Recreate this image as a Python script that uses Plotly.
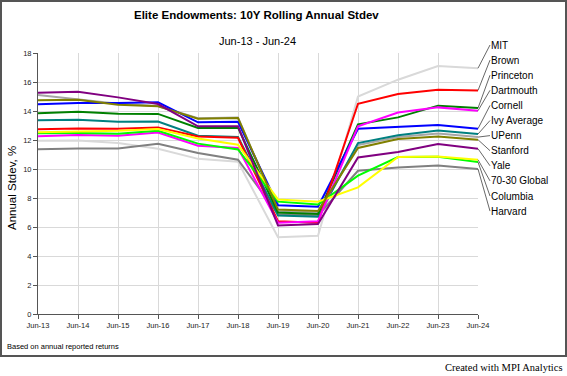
import plotly.graph_objects as go

periods = ["Jun-13", "Jun-14", "Jun-15", "Jun-16", "Jun-17", "Jun-18",
           "Jun-19", "Jun-20", "Jun-21", "Jun-22", "Jun-23", "Jun-24"]

# series values (annual stdev, %)
mit        = [11.95, 11.97, 11.80, 11.40, 10.70, 10.50, 5.30, 5.40, 15.00, 16.16, 17.10, 16.95]
harvard    = [11.36, 11.42, 11.42, 11.74, 11.10, 10.64, 6.90, 6.80, 9.88, 10.11, 10.25, 10.00]
upenn      = [15.10, 14.80, 14.50, 14.35, 13.50, 13.55, 7.10, 7.00, 11.65, 12.20, 12.45, 12.20]
ivy_avg    = [13.37, 13.40, 13.26, 13.28, 12.30, 12.20, 6.80, 6.70, 11.79, 12.32, 12.66, 12.41]
princeton  = [13.85, 13.95, 13.81, 13.80, 12.83, 12.85, 7.00, 6.90, 13.08, 13.56, 14.37, 14.20]
cornell    = [14.47, 14.55, 14.55, 14.60, 13.22, 13.26, 7.50, 7.40, 12.78, 12.90, 13.03, 12.78]
brown      = [12.75, 12.80, 12.78, 12.87, 12.25, 12.15, 6.40, 6.30, 14.50, 15.17, 15.47, 15.42]
dartmouth  = [12.26, 12.34, 12.30, 12.52, 11.60, 11.45, 6.30, 6.40, 12.94, 13.90, 14.25, 14.02]
columbia   = [12.47, 12.48, 12.43, 12.64, 11.75, 11.35, 7.75, 7.55, 9.54, 10.83, 10.85, 10.48]
global7030 = [12.54, 12.60, 12.64, 12.76, 12.10, 11.67, 7.90, 7.75, 8.73, 10.83, 10.87, 10.64]
stanford   = [14.75, 14.78, 14.43, 14.32, 13.47, 13.52, 7.20, 7.10, 11.45, 12.07, 12.25, 12.02]
yale       = [15.26, 15.33, 14.94, 14.48, 12.94, 12.94, 6.10, 6.20, 10.80, 11.17, 11.72, 11.40]

series = [
    ("MIT", mit, "#d9d9d9"),
    ("Harvard", harvard, "#808080"),
    ("UPenn", upenn, "#a6a6a6"),
    ("Ivy Average", ivy_avg, "#008080"),
    ("Princeton", princeton, "#008000"),
    ("Cornell", cornell, "#0000ff"),
    ("Brown", brown, "#ff0000"),
    ("Dartmouth", dartmouth, "#ff00ff"),
    ("Columbia", columbia, "#00ff00"),
    ("70-30 Global", global7030, "#ffff00"),
    ("Stanford", stanford, "#808000"),
    ("Yale", yale, "#800080"),
]

# label order on the right (top to bottom)
label_order = ["MIT", "Brown", "Princeton", "Dartmouth", "Cornell", "Ivy Average",
               "UPenn", "Stanford", "Yale", "70-30 Global", "Columbia", "Harvard"]

W, H = 567, 376
L, R, T, B = 38, 89, 53, 62
PW, PH = W - L - R, H - T - B
YMAX = 18

def px_x(p):
    return (p - L) / PW

def px_y(p):
    return (H - B - p) / PH

def val_to_px(v):
    return T + (YMAX - v) / YMAX * PH

fig = go.Figure()
for name, vals, col in series:
    fig.add_trace(go.Scatter(x=periods, y=vals, mode="lines", name=name,
                             line=dict(color=col, width=2), showlegend=False))

annotations = []
lookup = {n: v for n, v, c in series}
label_top, label_step = 45, 15.1
for i, name in enumerate(label_order):
    end_v = lookup[name][-1]
    ly = label_top + i * label_step
    annotations.append(dict(
        x=periods[-1], y=end_v, xref="x", yref="y",
        text=name, showarrow=True, arrowhead=0, arrowwidth=0.8,
        arrowcolor="#404040", ax=12, ay=ly - val_to_px(end_v),
        xanchor="left", yanchor="middle", borderpad=0,
        font=dict(family="Arial, Liberation Sans", size=10, color="#000"),
    ))

annotations += [
    dict(text="<b>Elite Endowments: 10Y Rolling Annual Stdev</b>", xref="paper", yref="paper",
         x=px_x(256), y=px_y(14.5), showarrow=False, xanchor="center", yanchor="middle",
         font=dict(family="Arial, Liberation Sans", size=11.5, color="#000")),
    dict(text="Jun-13 - Jun-24", xref="paper", yref="paper",
         x=px_x(257), y=px_y(40.5), showarrow=False, xanchor="center", yanchor="middle",
         font=dict(family="Arial, Liberation Sans", size=11, color="#000")),
    dict(text="Annual Stdev, %", xref="paper", yref="paper", textangle=-90,
         x=px_x(12), y=px_y(188), showarrow=False, xanchor="center", yanchor="middle",
         font=dict(family="Arial, Liberation Sans", size=11.5, color="#000")),
    dict(text="Based on annual reported returns", xref="paper", yref="paper",
         x=px_x(5), y=px_y(346), showarrow=False, xanchor="left", yanchor="middle",
         font=dict(family="Arial, Liberation Sans", size=7.5, color="#000")),
    dict(text="Created with MPI Analytics", xref="paper", yref="paper",
         x=px_x(565), y=px_y(367), showarrow=False, xanchor="right", yanchor="middle",
         font=dict(family="Times New Roman, Liberation Serif", size=10.5, color="#000")),
]

fig.update_layout(
    width=W, height=H, margin=dict(l=L, r=R, t=T, b=B),
    paper_bgcolor="white", plot_bgcolor="white",
    annotations=annotations,
    shapes=[dict(type="rect", xref="paper", yref="paper",
                 x0=px_x(1), x1=px_x(566), y0=px_y(356), y1=px_y(1),
                 line=dict(color="#555", width=2), layer="below")],
    xaxis=dict(range=[0, 11], showgrid=True, gridcolor="#d9d9d9", gridwidth=1,
               showline=True, linecolor="#555", linewidth=1, ticks="outside",
               ticklen=4, tickcolor="#555", zeroline=False,
               tickfont=dict(family="Arial, Liberation Sans", size=7.5, color="#222")),
    yaxis=dict(range=[0, YMAX], dtick=2, showgrid=True, gridcolor="#d9d9d9", gridwidth=1,
               showline=True, linecolor="#555", linewidth=1, ticks="outside",
               ticklen=4, tickcolor="#555", zeroline=False,
               tickfont=dict(family="Arial, Liberation Sans", size=7.5, color="#222")),
)

fig.write_html("out.html", config={"displayModeBar": False},
               post_script="document.body.style.margin='0';document.body.style.overflow='hidden';")
